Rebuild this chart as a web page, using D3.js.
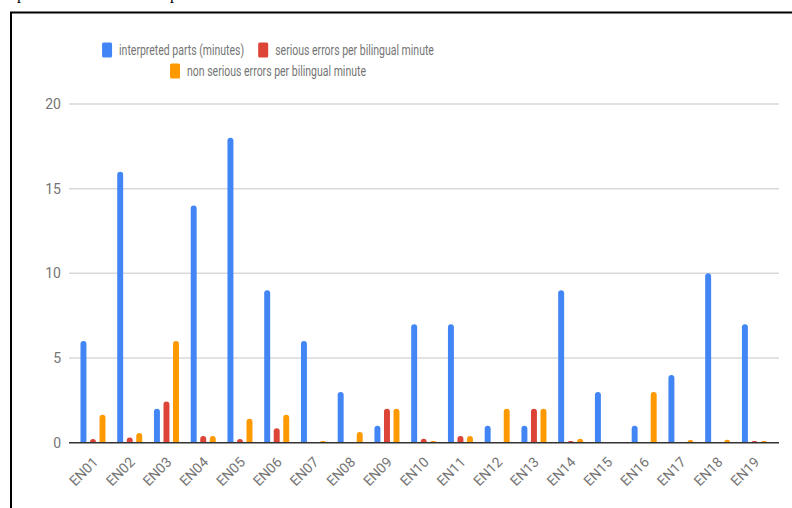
<!DOCTYPE html>
<html>
<head>
<meta charset="utf-8">
<script src="https://cdn.jsdelivr.net/npm/d3@7"></script>
<style>
  body { margin: 0; background: #fff; }
  svg { display: block; }
</style>
</head>
<body>
<div id="viz"></div>
<script>
const categories = ["EN01", "EN02", "EN03", "EN04", "EN05", "EN06", "EN07", "EN08", "EN09", "EN10",
                    "EN11", "EN12", "EN13", "EN14", "EN15", "EN16", "EN17", "EN18", "EN19"];
const seriesNames = ["interpreted parts (minutes)", "serious errors per bilingual minute",
                     "non serious errors per bilingual minute"];
const interpreted = [6, 16, 2, 14, 18, 9, 6, 3, 1, 7, 7, 1, 1, 9, 3, 1, 4, 10, 7];
const serious = [0.22, 0.3, 2.43, 0.4, 0.22, 0.86, 0, 0, 2, 0.23, 0.4, 0, 2, 0.1, 0, 0, 0, 0, 0.1];
const nonSerious = [1.65, 0.57, 6, 0.4, 1.41, 1.65, 0.1, 0.63, 2, 0.1, 0.4, 2, 2, 0.23, 0, 3, 0.16, 0.18, 0.1];
const yTicks = [0, 5, 10, 15, 20];
const colors = ["#4285F4", "#DB4437", "#FF9900"];

const W = 792, H = 508;
const svg = d3.select("#viz").append("svg").attr("width", W).attr("height", H);

// serif text of the page above, cut by the top edge
svg.append("text").attr("x", 17).attr("y", -1).style("font-family", "Liberation Serif")
  .style("font-size", "16px").text("p");
svg.append("text").attr("x", 170).attr("y", -1).style("font-family", "Liberation Serif")
  .style("font-size", "16px").text("p");

// frame
svg.append("path").attr("d", `M11,${H} V12.5 H${W}`).attr("fill", "none")
  .attr("stroke", "#000").attr("stroke-width", 2);

const plotLeft = 69, plotRight = 779;
const x = d3.scaleBand().domain(categories).range([74.6, 772.8]);
const y = d3.scaleLinear().domain([0, 20]).range([442.7, 104]);
const inner = d3.scaleBand().domain([0, 1, 2]).range([-12.5, 12.5]).paddingInner(0.375);

const font = "Roboto, 'Noto Sans', sans-serif";

// gridlines and y labels
svg.append("g").selectAll("line").data(yTicks.filter(d => d > 0)).join("line")
  .attr("x1", plotLeft).attr("x2", plotRight)
  .attr("y1", d => y(d)).attr("y2", d => y(d))
  .attr("stroke", "#d9d9d9").attr("stroke-width", 1.5);

svg.append("g").selectAll("text").data(yTicks).join("text")
  .attr("x", 61).attr("y", d => y(d)).attr("dy", "0.35em")
  .attr("text-anchor", "end")
  .style("font-family", font).style("font-size", "14px").style("fill", "#757575")
  .text(d => d);

// bars, rounded on top
const series = [interpreted, serious, nonSerious];
function barPath(cx, w, v) {
  const y0 = y(0), y1 = y(v), h = y0 - y1;
  if (h <= 0) return "";
  const r = Math.min(w / 2, h);
  const x0 = cx - w / 2, x1 = cx + w / 2;
  return `M${x0},${y0} V${y1 + r} Q${x0},${y1} ${x0 + r},${y1} H${x1 - r} Q${x1},${y1} ${x1},${y1 + r} V${y0} Z`;
}
series.forEach((vals, s) => {
  svg.append("g").selectAll("path").data(vals).join("path")
    .attr("d", (v, i) => barPath(x(categories[i]) + x.bandwidth() / 2 + inner(s) + inner.bandwidth() / 2,
                                 inner.bandwidth(), v))
    .attr("fill", colors[s]);
});

// baseline
svg.append("line").attr("x1", plotLeft).attr("x2", plotRight)
  .attr("y1", y(0)).attr("y2", y(0)).attr("stroke", "#333").attr("stroke-width", 1.5);

// x labels
svg.append("g").selectAll("text").data(categories).join("text")
  .attr("transform", d => `translate(${x(d) + x.bandwidth() / 2 + 6},463) rotate(-45)`)
  .attr("text-anchor", "end")
  .style("font-family", font).style("font-size", "14px").style("fill", "#757575")
  .text(d => d);

// legend (text is horizontally squeezed in the reference)
const legendRows = [[0, 1], [2]];
const legendCenter = 268;
const squeeze = 0.75;
legendRows.forEach((row, r) => {
  const g = svg.append("g");
  const cy = 50 + r * 21;
  let cx = 0;
  row.forEach((s, k) => {
    g.append("rect").attr("x", cx).attr("y", cy - 7.5).attr("width", 10).attr("height", 15)
      .attr("rx", 1.5).attr("fill", colors[s]);
    const t = g.append("text")
      .attr("transform", `translate(${cx + 17},${cy}) scale(${squeeze},1)`)
      .attr("dy", "0.35em")
      .style("font-family", font).style("font-size", "14px").style("fill", "#757575")
      .text(seriesNames[s]);
    cx += 17 + t.node().getComputedTextLength() * squeeze + (k < row.length - 1 ? 14 : 0);
  });
  g.attr("transform", `translate(${legendCenter - cx / 2},0)`);
});
</script>
</body>
</html>
